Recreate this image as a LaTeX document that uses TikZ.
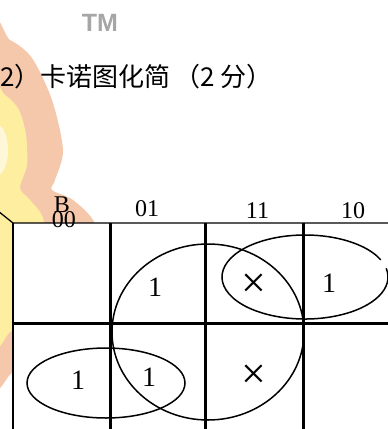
\documentclass[tikz,border=0pt]{standalone}
\usepackage{fontspec}
\setmainfont{Liberation Serif}
\newfontfamily\cjk{Noto Sans CJK SC}
\newfontfamily\tmfont{Liberation Sans}
\definecolor{peach}{RGB}{245,200,172}
\definecolor{lemon}{RGB}{253,238,160}
\tikzset{
  % text in the map
  khead/.style = {font=\fontsize{24}{24}\selectfont, inner sep=0pt},
  kval/.style = {font=\fontsize{28}{28}\selectfont, inner sep=0pt},
  kmark/.style = {font=\fontsize{44}{44}\selectfont, inner sep=0pt},
  % lines of the map
  heavy/.style = {line width=3pt},
  light/.style = {line width=1.3pt},
  group/.style = {line width=1.5pt}
}

\begin{document}
\begin{tikzpicture}[x=1pt,y=-1pt]
    \useasboundingbox (0,0) rectangle (388,429);
    % Logo behind the map
    \fill[peach] plot[smooth cycle] coordinates {(-12,36) (10,40) (32,58) (52,100)
      (63,150) (55,180) (52,190) (73,200) (95,224) (100,270) (80,320) (40,362)
      (13,372) (0,388) (-12,392)};
    \fill[lemon] plot[smooth cycle] coordinates {(-12,92) (5,95) (19,110) (26,135)
      (27,165) (20,188) (30,200) (44,222) (42,280) (22,318) (10,332) (-12,338)};
    \fill[lemon!40] (-4,150) ellipse [x radius=12pt, y radius=26pt];
    \node[font=\tmfont\bfseries\fontsize{25}{25}\selectfont, text=black!35, inner sep=0pt] (tm) at (100,23) {TM};
    % Heading
    \node[font=\cjk\fontsize{26}{26}\selectfont, anchor=base west, inner sep=0pt] (title) at (-26,86) {（2）卡诺图化简\hspace{4pt}（2 分）};
    % The map
    \coordinate (tl) at (13,223);
    \fill[white] (tl) rectangle (400,440);
    \draw[light] (-2,211) -- (tl) -- (400,223);
    \draw[light] (tl) -- (13,440);
    \draw[heavy] (13,323) -- (400,323);
    \foreach \xcol in {110,205,303}
    \draw[heavy] (\xcol,223) -- (\xcol,440);
    % Labels of the columns
    \node[khead] (b) at (62,205) {B};
    \node[khead] (c00) at (64,220) {00};
    \node[khead] (c01) at (147,208.5) {01};
    \node[khead] (c11) at (257.5,211) {11};
    \node[khead] (c10) at (353,211) {10};
    % Cells
    \node[kval] (m01) at (155,287.5) {1};
    \node[kmark] (m11) at (254,285.5) {×};
    \node[kval] (m10) at (329,283) {1};
    \node[kval] (n00) at (78,380) {1};
    \node[kval] (n01) at (149,377) {1};
    \node[kmark] (n11) at (254,377) {×};
    % Groups
    \draw[group] (208,332) ellipse [x radius=96pt, y radius=88pt];
    \draw[group] (106,383) ellipse [x radius=79pt, y radius=35pt];
    \draw[group] (305,277) ++(24:83pt and 42pt) arc[start angle=24, end angle=372, x radius=83pt, y radius=42pt];
\end{tikzpicture}
\end{document}
